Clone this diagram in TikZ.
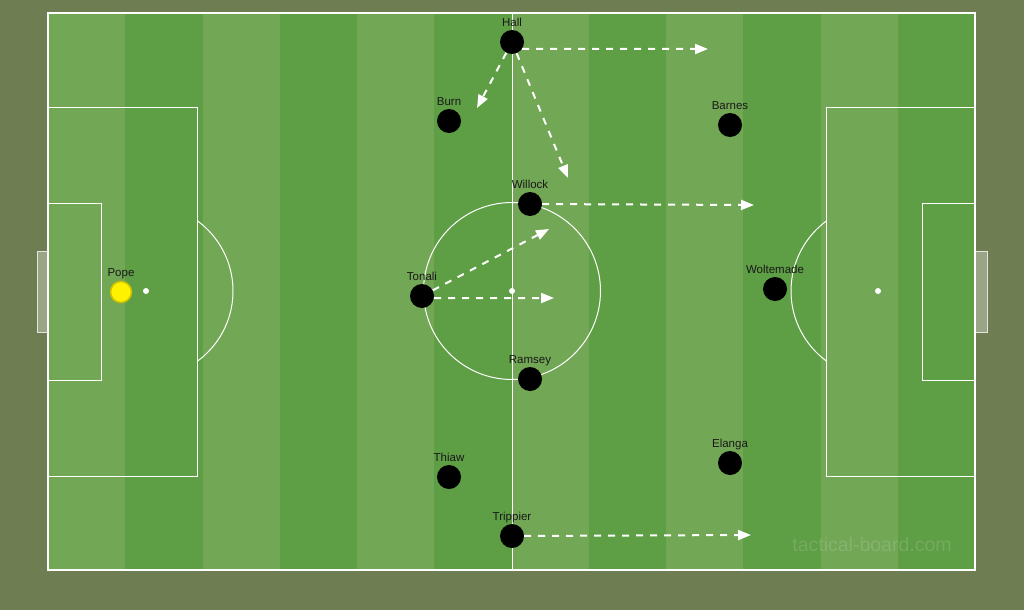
\documentclass[tikz,border=0pt]{standalone}
\usepackage{fontspec}
\setmainfont{Liberation Sans}
\usetikzlibrary{arrows.meta,positioning}
\definecolor{olivebg}{HTML}{6F7D52}
\definecolor{grasslight}{HTML}{72A755}
\definecolor{grassdark}{HTML}{5E9E45}
\definecolor{keeper}{HTML}{FFF200}
\tikzset{
  line/.style={white,line width=1pt},
  player/.style={circle,fill=black,minimum size=24pt,inner sep=0pt},
  goalie/.style={circle,fill=keeper,draw=keeper!80!black,line width=1.5pt,minimum size=21pt,inner sep=0pt},
  tag/.style={font=\fontsize{11.5}{12}\selectfont,text=black!90,inner sep=0pt,text depth=0pt},
  run/.style={white,line width=2pt,dash pattern=on 7pt off 7pt,-{Triangle[length=13pt,width=10pt]}},
  netbox/.style={draw=white!80!olivebg,fill=olivebg!70!white,line width=1pt},
  watermark/.style={font=\fontsize{19.5}{20}\selectfont,text=white,text opacity=.14}
}
\begin{document}
\begin{tikzpicture}[x=1pt,y=-1pt]
\fill[olivebg] (0,0) rectangle (1024,610);
\useasboundingbox (0,0) rectangle (1024,610);

% grass
\fill[grasslight] (48,13) rectangle (975,570);
\foreach \k in {1,3,5,7,9,11}
  \fill[grassdark] ({48+77.25*\k},13) rectangle ({48+77.25*(\k+1)},570);

% goals
\draw[netbox] (37,251) rectangle (48,332);
\draw[netbox] (975,251) rectangle (987,332);

% markings
\draw[line,line width=1.5pt] (48,13) rectangle (975,570);
\draw[line] (512,13) -- (512,570);
\draw[line] (512,291) circle (88.5pt);
\fill[white] (512,291) circle (3pt);

\draw[line] (48,107) rectangle (197,476);
\draw[line] (48,203) rectangle (101,380);
\fill[white] (146,291) circle (3pt);
\begin{scope}
\clip (197,0) rectangle (300,610);
\draw[line] (146,291) circle (87pt);
\end{scope}

\draw[line] (826,107) rectangle (975,476);
\draw[line] (922,203) rectangle (975,380);
\fill[white] (878,291) circle (3pt);
\begin{scope}
\clip (700,0) rectangle (826,610);
\draw[line] (878,291) circle (87pt);
\end{scope}

% players
\node[goalie] (pope) at (121,292) {};
\node[tag,above=4pt of pope] (popename) {Pope};
\node[player] (hall) at (512,42) {};
\node[tag,above=3pt of hall] (hallname) {Hall};
\node[player] (burn) at (449,121) {};
\node[tag,above=3pt of burn] (burnname) {Burn};
\node[player] (barnes) at (730,125) {};
\node[tag,above=3pt of barnes] (barnesname) {Barnes};
\node[player] (willock) at (530,204) {};
\node[tag,above=3pt of willock] (willockname) {Willock};
\node[player] (tonali) at (422,296) {};
\node[tag,above=3pt of tonali] (tonaliname) {Tonali};
\node[player] (woltemade) at (775,289) {};
\node[tag,above=3pt of woltemade] (woltemadename) {Woltemade};
\node[player] (ramsey) at (530,379) {};
\node[tag,above=3pt of ramsey] (ramseyname) {Ramsey};
\node[player] (elanga) at (730,463) {};
\node[tag,above=3pt of elanga] (elanganame) {Elanga};
\node[player] (thiaw) at (449,477) {};
\node[tag,above=3pt of thiaw] (thiawname) {Thiaw};
\node[player] (trippier) at (512,536) {};
\node[tag,above=3pt of trippier] (trippiername) {Trippier};

% runs and passes
\coordinate (hallwide) at (708,49);
\coordinate (hallleft) at (477,108);
\coordinate (halldeep) at (568,178);
\coordinate (willockrun) at (754,205);
\coordinate (tonalipass) at (549,229);
\coordinate (tonalirun) at (554,298);
\coordinate (trippierrun) at (751,535);
\draw[run] (hall.-35) -- (hallwide);
\draw[run] (hall) -- (hallleft);
\draw[run] (hall) -- (halldeep);
\draw[run] (willock) -- (willockrun);
\draw[run] (tonali) -- (tonalipass);
\draw[run] (tonali.-10) -- (tonalirun);
\draw[run] (trippier) -- (trippierrun);

\node[watermark] (site) at (872,545) {tactical-board.com};
\end{tikzpicture}
\end{document}
